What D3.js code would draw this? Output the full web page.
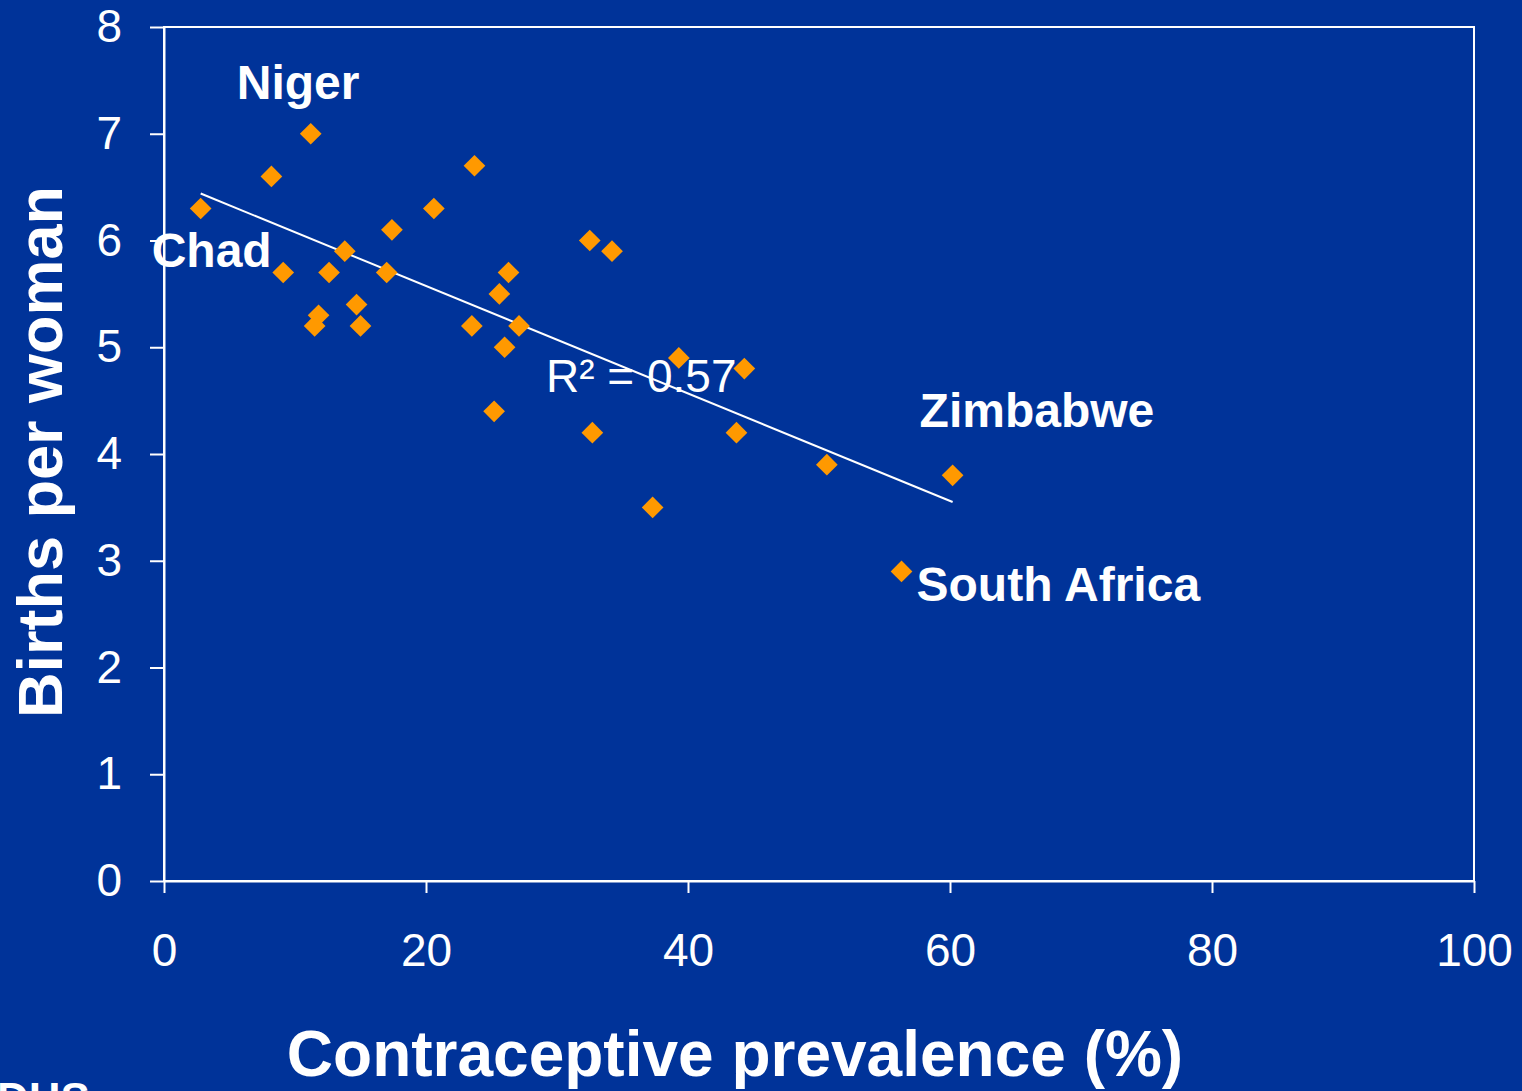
<!DOCTYPE html>
<html>
<head>
    <meta charset="utf-8">
    <style>
        body {
            margin: 0;
            background: #003399;
            overflow: hidden;
        }
        svg {
            display: block;
            font-family: "Liberation Sans", Arial, sans-serif;
        }
        .axis .domain { stroke: white; stroke-width: 2px; }
        .axis .tick line { stroke: white; stroke-width: 2px; }
        .axis .tick text { fill: white; font-size: 46px; }
        .country { fill: white; font-size: 48px; font-weight: bold; }
    </style>
</head>
<body>
<svg width="1522" height="1091"></svg>

<script src="https://d3js.org/d3.v7.min.js"></script>
<script>
    // contraceptive prevalence (%) and births per woman
    let prevalence = [2.8, 8.2, 11.2, 9.1, 13.8, 12.6, 11.8, 11.5, 14.7, 15.0,
        17.0, 17.4, 20.6, 23.7, 23.5, 25.6, 26.3, 27.1, 26.0, 25.2,
        32.5, 34.2, 32.7, 39.3, 44.3, 43.7, 37.3, 50.6, 60.2, 56.3]
    let births = [6.3, 6.6, 7.0, 5.7, 5.9, 5.7, 5.3, 5.2, 5.4, 5.2,
        5.7, 6.1, 6.3, 6.7, 5.2, 5.5, 5.7, 5.2, 5.0, 4.4,
        6.0, 5.9, 4.2, 4.9, 4.8, 4.2, 3.5, 3.9, 3.8, 2.9]

    // fitted trend line ends
    let trendX = [2.8, 60.2]
    let trendY = [6.44, 3.55]

    let xTicks = [0, 20, 40, 60, 80, 100]
    let yTicks = [0, 1, 2, 3, 4, 5, 6, 7, 8]

    // labelled countries: name, prevalence, births, label offset in px
    let labels = [
        { name: "Niger", x: 11.2, y: 7.0, dx: -74, dy: -35 },
        { name: "Chad", x: 2.8, y: 6.3, dx: -49, dy: 59 },
        { name: "Zimbabwe", x: 60.2, y: 3.8, dx: -33, dy: -48 },
        { name: "South Africa", x: 56.3, y: 2.9, dx: 15, dy: 30 }
    ]

    let data = prevalence.map((p, i) => ({ x: p, y: births[i] }))

    let svg = d3.select("svg")
    let margin = { top: 27, right: 48, bottom: 210, left: 164 }
    let width = 1522
    let height = 1091

    let x = d3.scaleLinear()
        .domain([0, 100])
        .range([margin.left, width - margin.right])

    let y = d3.scaleLinear()
        .domain([0, 8])
        .range([height - margin.bottom, margin.top])

    // plot frame (top and right)
    svg.append("rect")
        .attr("x", x(0))
        .attr("y", y(8))
        .attr("width", x(100) - x(0))
        .attr("height", y(0) - y(8))
        .style("fill", "none")
        .style("stroke", "white")
        .style("stroke-width", "2px")

    svg.append("g")
        .attr("class", "x axis")
        .attr("transform", `translate(0,${y(0)})`)
        .call(d3.axisBottom(x).tickValues(xTicks).tickSize(12).tickPadding(40).tickSizeOuter(0))

    svg.append("g")
        .attr("class", "y axis")
        .attr("transform", `translate(${x(0)},0)`)
        .call(d3.axisLeft(y).tickValues(yTicks).tickSize(14).tickPadding(28).tickSizeOuter(0))

    // trend line
    svg.append("line")
        .attr("x1", x(trendX[0]))
        .attr("y1", y(trendY[0]))
        .attr("x2", x(trendX[1]))
        .attr("y2", y(trendY[1]))
        .style("stroke", "white")
        .style("stroke-width", "2px")

    // diamond markers
    let diamond = d3.symbol().type(d3.symbolDiamond2).size(300)
    svg.append("g")
        .selectAll("path")
        .data(data)
        .join("path")
        .attr("transform", d => `translate(${x(d.x)},${y(d.y)})`)
        .attr("d", diamond)
        .style("fill", "#ff9900")

    svg.append("text")
        .attr("x", 546)
        .attr("y", 392)
        .style("fill", "white")
        .style("font-size", "46px")
        .text("R² = 0.57")

    svg.append("g")
        .selectAll("text")
        .data(labels)
        .join("text")
        .attr("class", "country")
        .attr("x", d => x(d.x) + d.dx)
        .attr("y", d => y(d.y) + d.dy)
        .text(d => d.name)

    // axis titles
    svg.append("text")
        .attr("transform", "translate(62,452) rotate(-90)")
        .style("text-anchor", "middle")
        .style("fill", "white")
        .style("font-size", "63px")
        .style("font-weight", "bold")
        .text("Births per woman")

    svg.append("text")
        .attr("x", 735)
        .attr("y", 1076)
        .style("text-anchor", "middle")
        .style("fill", "white")
        .style("font-size", "64px")
        .style("font-weight", "bold")
        .text("Contraceptive prevalence (%)")

    // source note, cut off at the bottom edge
    svg.append("text")
        .attr("x", -3)
        .attr("y", 1114)
        .style("fill", "white")
        .style("font-size", "44px")
        .style("font-weight", "bold")
        .text("DHS")
</script>
</body>
</html>
